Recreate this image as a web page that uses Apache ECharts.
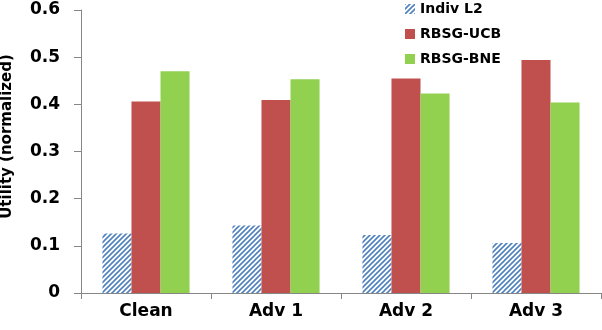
<!DOCTYPE html>
<html>
<head>
<meta charset="utf-8">
<script src="https://cdn.jsdelivr.net/npm/echarts@6/dist/echarts.min.js"></script>
<style>
  html, body { margin: 0; padding: 0; background: #fff; }
  #chart { width: 602px; height: 330px; }
</style>
</head>
<body>
<div id="chart"></div>
<script>
// data
const categories = ["Clean", "Adv 1", "Adv 2", "Adv 3"];
const indivL2 = [0.126, 0.143, 0.123, 0.106];
const rbsgUcb = [0.406, 0.409, 0.455, 0.494];
const rbsgBne = [0.470, 0.453, 0.423, 0.404];
const yTicks = [0, 0.1, 0.2, 0.3, 0.4, 0.5, 0.6];

// diagonal hatch for Indiv L2
function makeHatch() {
  const c = document.createElement("canvas");
  c.width = 5;
  c.height = 5;
  const ctx = c.getContext("2d");
  ctx.fillStyle = "#ffffff";
  ctx.fillRect(0, 0, 5, 5);
  ctx.strokeStyle = "#4F81BD";
  ctx.lineWidth = 1.6;
  ctx.beginPath();
  ctx.moveTo(-1, 6); ctx.lineTo(6, -1);
  ctx.moveTo(-1, 1); ctx.lineTo(1, -1);
  ctx.moveTo(4, 6); ctx.lineTo(6, 4);
  ctx.stroke();
  return c;
}

const font = "DejaVu Sans";
const chart = echarts.init(document.getElementById("chart"));
chart.setOption({
  animation: false,
  textStyle: { fontFamily: font },
  grid: { left: 81, right: 1, top: 10, bottom: 37, containLabel: false, outerBoundsMode: "none" },
  legend: {
    orient: "vertical",
    left: 405,
    top: 2,
    padding: 0,
    itemWidth: 10,
    itemHeight: 10,
    itemGap: 11,
    icon: "rect",
    textStyle: { fontFamily: font, fontWeight: "bold", fontSize: 14, color: "#000" },
    data: ["Indiv L2", "RBSG-UCB", "RBSG-BNE"]
  },
  xAxis: {
    type: "category",
    data: categories,
    axisLine: { lineStyle: { color: "#868686", width: 1 } },
    axisTick: { show: true, length: 6, lineStyle: { color: "#868686" } },
    axisLabel: { fontFamily: font, fontWeight: "bold", fontSize: 17, color: "#000", margin: 10 },
    splitLine: { show: false }
  },
  yAxis: {
    type: "value",
    min: yTicks[0],
    max: yTicks[yTicks.length - 1],
    interval: 0.1,
    name: "Utility (normalized)",
    nameLocation: "middle",
    nameGap: 66,
    nameTextStyle: { fontFamily: font, fontWeight: "bold", fontSize: 15, color: "#000", padding: [0, 0, 0, 30] },
    axisLine: { show: true, lineStyle: { color: "#868686", width: 1 } },
    axisTick: { show: true, length: 7, lineStyle: { color: "#868686" } },
    axisLabel: { fontFamily: font, fontWeight: "bold", fontSize: 17, color: "#000", margin: 21 },
    splitLine: { show: false }
  },
  series: [
    {
      name: "Indiv L2",
      type: "bar",
      data: indivL2,
      barGap: "0%",
      barCategoryGap: "33%",
      itemStyle: { color: { image: makeHatch(), repeat: "repeat" } }
    },
    {
      name: "RBSG-UCB",
      type: "bar",
      data: rbsgUcb,
      itemStyle: { color: "#C0504D" }
    },
    {
      name: "RBSG-BNE",
      type: "bar",
      data: rbsgBne,
      itemStyle: { color: "#92D050" }
    }
  ]
});
</script>
</body>
</html>
